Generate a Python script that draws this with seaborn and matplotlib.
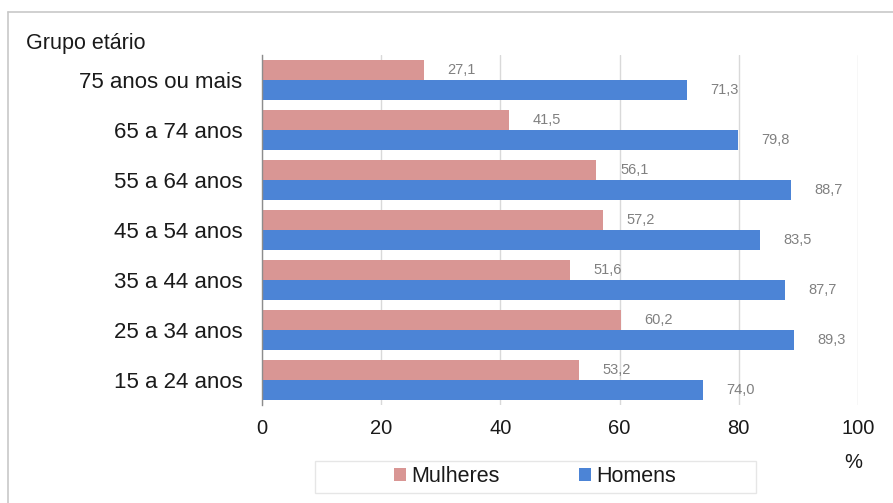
import matplotlib
matplotlib.use("Agg")
import matplotlib.pyplot as plt
from matplotlib.lines import Line2D
from matplotlib.patches import Patch, Rectangle
import seaborn as sns
import pandas as pd

# Age groups, top to bottom
grupos = ["75 anos ou mais", "65 a 74 anos", "55 a 64 anos", "45 a 54 anos",
          "35 a 44 anos", "25 a 34 anos", "15 a 24 anos"]
mulheres = [27.1, 41.5, 56.1, 57.2, 51.6, 60.2, 53.2]
homens = [71.3, 79.8, 88.7, 83.5, 87.7, 89.3, 74.0]
series = ["Mulheres", "Homens"]
x_ticks = [0, 20, 40, 60, 80, 100]

cores = {"Mulheres": "#D99694", "Homens": "#4C84D6"}

df = pd.DataFrame({
    "grupo": grupos * 2,
    "valor": mulheres + homens,
    "sexo": ["Mulheres"] * len(grupos) + ["Homens"] * len(grupos),
})

sns.set_theme(style="white")
plt.rcParams["font.family"] = ["Liberation Sans", "DejaVu Sans"]

W, H = 893, 503
fig = plt.figure(figsize=(W / 100, H / 100), dpi=100)
ax = fig.add_axes([262 / W, 1 - 405 / H, (858 - 262) / W, 350 / H])

sns.barplot(data=df, y="grupo", x="valor", hue="sexo", order=grupos,
            hue_order=series, palette=cores, orient="h", width=0.8,
            saturation=1, linewidth=0, ax=ax, legend=False)

# Value labels next to each bar
for cont, nome in zip(ax.containers, series):
    labels = [f"{v:.1f}".replace(".", ",") for v in cont.datavalues]
    ax.bar_label(cont, labels=labels, padding=17, fontsize=10.5, color="#808080")

ax.set_xlim(0, 100)
ax.set_ylim(len(grupos) - 0.5, -0.5)
ax.set_xticks(x_ticks)
ax.set_xticklabels([str(t) for t in x_ticks], fontsize=14.5, color="#1a1a1a")
ax.set_xlabel("")
ax.set_ylabel("")
ax.tick_params(axis="x", length=0, pad=10)
ax.tick_params(axis="y", which="major", length=0, pad=14, labelsize=16,
               labelcolor="#1a1a1a")
ax.set_yticks([i - 0.5 for i in range(len(grupos) + 1)], minor=True)
ax.tick_params(axis="y", which="minor", length=6, width=1, color="#8c8c8c",
               direction="out")

ax.grid(axis="x", color="#d9d9d9", linewidth=1)
ax.set_axisbelow(True)
for s in ["top", "right", "bottom"]:
    ax.spines[s].set_visible(False)
ax.spines["left"].set_color("#8c8c8c")
ax.spines["left"].set_linewidth(1)

fig.text(26 / W, 1 - 43 / H, "Grupo etário", fontsize=15.5, color="#1a1a1a",
         va="center", ha="left")
fig.text(853 / W, 1 - 463 / H, "%", fontsize=14.5, color="#1a1a1a",
         va="center", ha="center")

# Legend box and entries
fig.add_artist(Rectangle((315 / W, 1 - 493 / H), (756 - 315) / W, 32 / H,
                         transform=fig.transFigure, facecolor="white",
                         edgecolor="#e6e6e6", linewidth=1, zorder=1))
handles = [Patch(facecolor=cores[s], edgecolor="none", label=s) for s in series]
leg = fig.legend(handles=handles, loc="center", ncol=2,
                 bbox_to_anchor=(535 / W, 1 - 477 / H), fontsize=15.5,
                 frameon=False, handlelength=0.55, handleheight=0.55,
                 handletextpad=0.25, columnspacing=3.7, borderpad=0.2)
for t in leg.get_texts():
    t.set_color("#1a1a1a")

# Outer frame lines (top and left)
fig.add_artist(Line2D([8 / W, 1], [1 - 12 / H, 1 - 12 / H],
                      transform=fig.transFigure, color="#c8c8c8", linewidth=1.2))
fig.add_artist(Line2D([8 / W, 8 / W], [0, 1 - 12 / H],
                      transform=fig.transFigure, color="#c8c8c8", linewidth=1.2))

fig.savefig("out.png", dpi=100)
